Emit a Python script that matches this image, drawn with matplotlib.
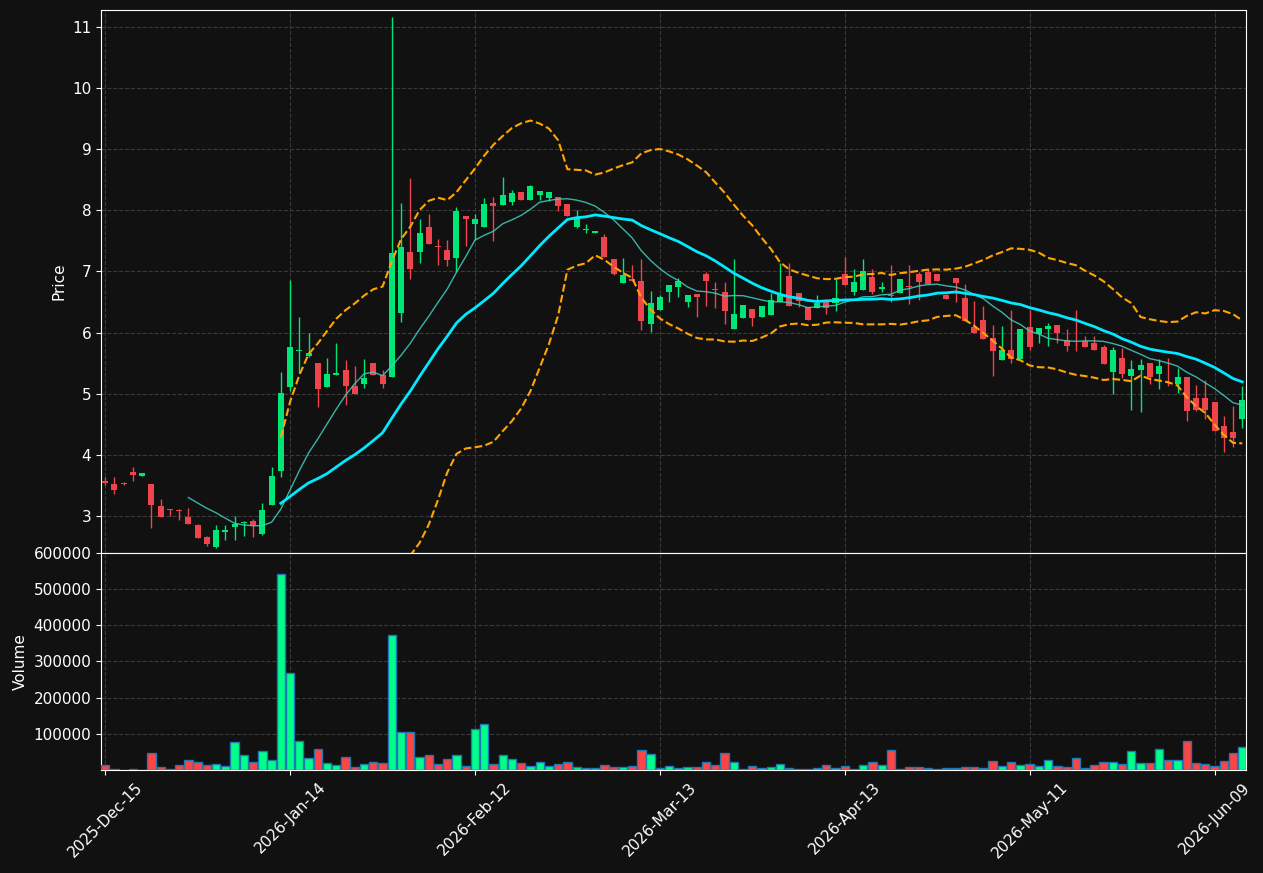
import matplotlib
matplotlib.use("Agg")
import matplotlib.pyplot as plt
import numpy as np
import pandas as pd

# trading-day calendar (NYSE holidays skipped)
holidays = ["2025-12-25", "2026-01-01", "2026-01-19", "2026-02-16", "2026-04-03", "2026-05-25"]
dates = pd.bdate_range("2025-12-15", periods=124, freq="C", holidays=holidays)

opens = [3.576, 3.527, 3.543, 3.723, 3.647, 3.527, 3.168, 3.109, 3.092, 2.989,
         2.859, 2.652, 2.500, 2.734, 2.815, 2.891, 2.924, 2.712, 3.174, 3.739,
         5.109, 5.703, 5.620, 5.496, 5.109, 5.305, 5.381, 5.120, 5.158, 5.496,
         5.305, 5.272, 6.318, 7.326, 7.315, 7.734, 7.424, 7.358, 7.228, 7.908,
         7.776, 7.732, 8.120, 8.093, 8.137, 8.300, 8.175, 8.257, 8.202, 8.219,
         8.109, 7.732, 7.672, 7.634, 7.568, 7.202, 6.814, 6.874, 6.842, 6.142,
         6.366, 6.661, 6.743, 6.497, 6.628, 6.956, 6.710, 6.661, 6.055, 6.240,
         6.393, 6.257, 6.284, 6.503, 6.923, 6.645, 6.421, 6.404, 6.541, 6.486,
         6.956, 6.661, 6.694, 6.902, 6.716, 6.617, 6.650, 6.765, 6.956, 6.989,
         6.956, 6.607, 6.891, 6.563, 6.087, 6.202, 5.918, 5.546, 5.710, 5.563,
         6.087, 5.984, 6.055, 6.120, 5.885, 5.852, 5.863, 5.825, 5.760, 5.350,
         5.579, 5.284, 5.383, 5.503, 5.317, 5.443, 5.158, 5.268, 4.923, 4.923,
         4.858, 4.464, 4.366, 4.585]
highs = [3.630, 3.636, 3.550, 3.800, 3.707, 3.527, 3.277, 3.109, 3.114, 3.130,
         2.870, 2.680, 2.859, 2.853, 2.995, 2.913, 2.957, 3.212, 3.800, 5.348,
         6.864, 6.247, 6.000, 5.496, 5.588, 5.833, 5.556, 5.447, 5.572, 5.500,
         5.381, 11.166, 8.121, 8.530, 7.854, 7.940, 7.533, 7.516, 8.061, 7.908,
         7.945, 8.197, 8.213, 8.546, 8.333, 8.300, 8.410, 8.317, 8.300, 8.219,
         8.109, 8.000, 7.770, 7.670, 7.607, 7.202, 7.213, 7.098, 7.197, 6.683,
         6.612, 6.781, 6.885, 6.612, 6.628, 6.995, 6.820, 6.820, 7.197, 6.448,
         6.393, 6.432, 6.650, 7.142, 7.131, 6.645, 6.421, 6.623, 6.541, 6.869,
         7.240, 7.033, 7.197, 7.033, 6.820, 7.098, 6.874, 7.098, 6.995, 7.044,
         6.956, 6.639, 6.891, 6.792, 6.514, 6.432, 6.120, 6.115, 6.366, 6.055,
         6.366, 6.071, 6.164, 6.120, 6.066, 6.377, 5.945, 5.945, 5.798, 5.765,
         5.754, 5.546, 5.574, 5.503, 5.574, 5.590, 5.421, 5.268, 5.148, 5.230,
         4.858, 4.639, 4.792, 5.131]
lows = [3.510, 3.359, 3.510, 3.580, 3.647, 2.800, 2.978, 3.005, 2.935, 2.864,
        2.636, 2.505, 2.473, 2.603, 2.603, 2.668, 2.652, 2.696, 3.174, 3.630,
        5.049, 5.338, 5.600, 4.782, 5.109, 5.305, 4.820, 4.995, 5.098, 5.300,
        5.098, 5.272, 6.171, 6.879, 7.140, 7.445, 7.108, 7.086, 7.010, 7.424,
        7.514, 7.732, 7.503, 8.093, 8.093, 8.175, 8.175, 8.170, 8.158, 7.995,
        7.907, 7.705, 7.623, 7.634, 7.240, 6.950, 6.814, 6.836, 6.044, 6.016,
        6.366, 6.497, 6.585, 6.421, 6.257, 6.437, 6.404, 6.148, 6.055, 6.240,
        6.115, 6.257, 6.284, 6.503, 6.432, 6.421, 6.202, 6.404, 6.311, 6.360,
        6.781, 6.607, 6.694, 6.628, 6.656, 6.503, 6.650, 6.475, 6.525, 6.798,
        6.842, 6.552, 6.503, 6.191, 5.995, 5.902, 5.295, 5.546, 5.503, 5.563,
        5.721, 5.830, 5.787, 5.830, 5.700, 5.700, 5.760, 5.710, 5.486, 5.000,
        5.251, 4.738, 4.705, 5.164, 5.082, 5.126, 5.016, 4.557, 4.716, 4.590,
        4.388, 4.044, 4.126, 4.443]
closes = [3.533, 3.418, 3.516, 3.663, 3.707, 3.174, 2.978, 3.092, 3.076, 2.864,
          2.636, 2.549, 2.777, 2.777, 2.875, 2.908, 2.848, 3.092, 3.658, 5.011,
          5.761, 5.719, 5.660, 5.076, 5.327, 5.332, 5.120, 4.995, 5.250, 5.305,
          5.158, 7.309, 7.407, 7.037, 7.636, 7.445, 7.397, 7.184, 7.996, 7.854,
          7.858, 8.104, 8.077, 8.251, 8.284, 8.175, 8.399, 8.317, 8.300, 8.077,
          7.907, 7.885, 7.694, 7.661, 7.240, 6.962, 6.934, 6.836, 6.191, 6.481,
          6.579, 6.781, 6.847, 6.612, 6.579, 6.842, 6.694, 6.350, 6.300, 6.448,
          6.240, 6.432, 6.530, 6.634, 6.432, 6.519, 6.202, 6.481, 6.404, 6.574,
          6.781, 6.825, 7.005, 6.661, 6.738, 6.601, 6.874, 6.743, 6.825, 6.798,
          6.842, 6.552, 6.814, 6.191, 5.995, 5.902, 5.699, 5.710, 5.568, 6.055,
          5.765, 6.071, 6.104, 5.989, 5.776, 5.842, 5.760, 5.710, 5.486, 5.710,
          5.322, 5.399, 5.464, 5.268, 5.448, 5.432, 5.268, 4.710, 4.732, 4.732,
          4.388, 4.279, 4.268, 4.891]
volumes = [14700, 2500, 800, 2000, 600, 47700, 9200, 3000, 14700, 28400,
           22900, 14700, 17400, 11900, 78000, 42200, 22900, 53200, 28400, 543100,
           267900, 80700, 33900, 58700, 20200, 14700, 36700, 9200, 17400, 22900,
           20200, 372500, 105500, 105500, 36700, 42200, 17400, 31200, 42200, 11900,
           113800, 127500, 17400, 42200, 31200, 20200, 11900, 22900, 11900, 17400,
           22900, 9200, 6400, 6400, 14700, 9200, 9200, 11900, 56000, 45000,
           6400, 11900, 6400, 9200, 9200, 22900, 14700, 47700, 22900, 2500,
           11900, 6400, 9200, 17400, 6400, 3000, 2500, 6400, 14700, 6400,
           11900, 3000, 14700, 22900, 14700, 56000, 3000, 9200, 9200, 6400,
           3000, 6400, 6400, 9200, 9200, 6400, 25700, 11900, 22900, 14700,
           17400, 11900, 28400, 11900, 9200, 33900, 6400, 14700, 22900, 22900,
           17400, 53200, 20200, 20200, 58700, 28400, 28400, 80700, 20200, 17400,
           11900, 25700, 47700, 64200]

BG = "#111111"
UP = "#00e676"
DOWN = "#f0444c"
VOL_UP = "#00ff88"
VOL_DOWN = "#ff4444"

plt.rcParams["font.size"] = 11

df = pd.DataFrame({"open": opens, "high": highs, "low": lows, "close": closes, "volume": volumes},
                  index=dates)
x = np.arange(len(df))
sma10 = df["close"].rolling(10).mean()
sma20 = df["close"].rolling(20).mean()
std20 = df["close"].rolling(20).std(ddof=0)
upper = sma20 + 2 * std20
lower = sma20 - 2 * std20

fig = plt.figure(figsize=(12.63, 8.73), dpi=100, facecolor=BG)
ax = fig.add_axes([0.080, 0.3666, 0.9065, 0.622])
axv = fig.add_axes([0.080, 0.118, 0.9065, 0.2486], sharex=ax)

up = df["close"] >= df["open"]
candle_colors = np.where(up, UP, DOWN)
vol_colors = np.where(up, VOL_UP, VOL_DOWN)

# candles
ax.vlines(x, df["low"], df["high"], colors=candle_colors, linewidth=1, zorder=2)
body_low = np.minimum(df["open"], df["close"])
body_h = np.maximum(np.abs(df["close"] - df["open"]), 0.012)
ax.bar(x, body_h, bottom=body_low, width=0.65, color=candle_colors, linewidth=0, zorder=3)

# moving averages and bollinger bands
ax.plot(x, sma10, color="#40d0c0", linewidth=1, alpha=0.85, zorder=4)
ax.plot(x, sma20, color="#00eaff", linewidth=2, zorder=4)
ax.plot(x, upper, color="orange", linestyle="--", linewidth=1.5, zorder=4)
ax.plot(x, lower, color="orange", linestyle="--", linewidth=1.5, zorder=4)

# volume
axv.bar(x, df["volume"], width=0.9, color=vol_colors, edgecolor="#1f77b4", linewidth=1, zorder=3)

tick_pos = np.arange(0, len(df), 20)
for a in (ax, axv):
    a.set_facecolor(BG)
    a.grid(True, color="#3a3a3a", linestyle="--", linewidth=0.8)
    a.set_axisbelow(True)
    for s in a.spines.values():
        s.set_color("white")
    a.tick_params(colors="white")

ax.set_xlim(-0.45, 123.4)
ax.set_ylim(2.395, 11.278)
ax.set_yticks(range(3, 12))
ax.set_ylabel("Price", color="white")
ax.set_xticks(tick_pos)
ax.tick_params(axis="x", labelbottom=False, length=0)

axv.set_ylim(0, 600000)
axv.set_yticks(range(100000, 600001, 100000))
axv.set_yticklabels([str(v) for v in range(100000, 600001, 100000)])
axv.set_ylabel("Volume", color="white")
axv.set_xticks(tick_pos)
axv.set_xticklabels([dates[i].strftime("%Y-%b-%d") for i in tick_pos], rotation=45)

fig.savefig("out.png", dpi=100, facecolor=BG)
